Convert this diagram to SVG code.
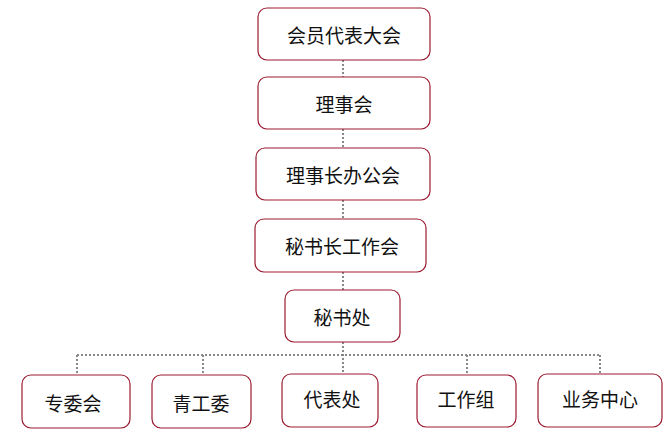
<svg xmlns="http://www.w3.org/2000/svg" width="668" height="432" viewBox="0 0 668 432">
<style>
.b{fill:#fff;stroke:#9b1b30;stroke-width:1.2}
.t{font-family:"Noto Sans CJK SC","Liberation Sans",sans-serif;font-size:19px;fill:#111;text-anchor:middle;dominant-baseline:central}
.c{stroke:#888;stroke-width:2;stroke-dasharray:2,2;fill:none}
</style>
<rect width="668" height="432" fill="#fff"/>
<g id="connectors">
<path class="c" d="M343 60V77M343 129V148M343 200V219M343 272V290M343 342V374M77 355H600M77 355V374M203 355V374M467 355V374M600 355V374"/>
</g>
<g id="n1"><rect class="b" x="258" y="8" width="172" height="52" rx="9"/><text class="t" x="344" y="34">会员代表大会</text></g>
<g id="n2"><rect class="b" x="258" y="77" width="172" height="52" rx="9"/><text class="t" x="344" y="103">理事会</text></g>
<g id="n3"><rect class="b" x="256" y="148" width="174" height="52" rx="9"/><text class="t" x="343" y="174">理事长办公会</text></g>
<g id="n4"><rect class="b" x="255" y="219" width="171" height="53" rx="9"/><text class="t" x="342" y="245">秘书长工作会</text></g>
<g id="n5"><rect class="b" x="285" y="290" width="115" height="52" rx="9"/><text class="t" x="342" y="316">秘书处</text></g>
<g id="n6"><rect class="b" x="22" y="375" width="108" height="53" rx="9"/><text class="t" x="73" y="402">专委会</text></g>
<g id="n7"><rect class="b" x="152" y="375" width="99" height="53" rx="9"/><text class="t" x="201" y="402">青工委</text></g>
<g id="n8"><rect class="b" x="282" y="374" width="96" height="53" rx="9"/><text class="t" x="332" y="398">代表处</text></g>
<g id="n9"><rect class="b" x="417" y="375" width="99" height="52" rx="9"/><text class="t" x="466" y="398">工作组</text></g>
<g id="n10"><rect class="b" x="538" y="374" width="124" height="53" rx="9"/><text class="t" x="600" y="398">业务中心</text></g>
</svg>
